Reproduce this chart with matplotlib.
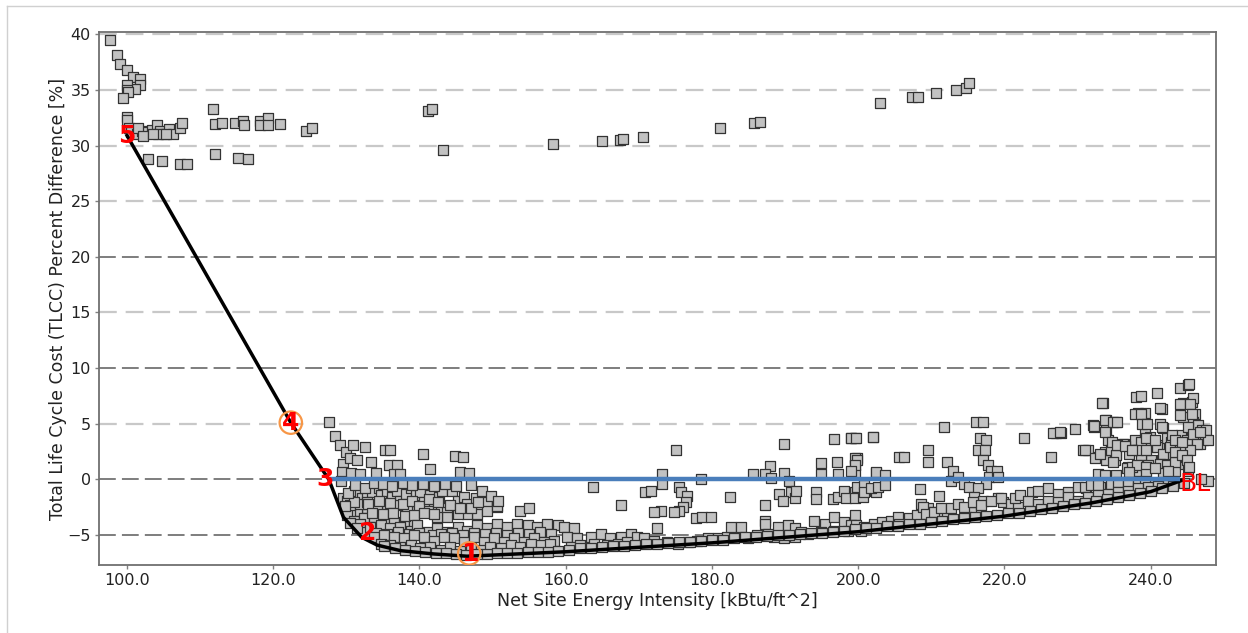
import matplotlib
matplotlib.use("Agg")
import matplotlib.pyplot as plt
from matplotlib.lines import Line2D

# scatter values, (energy intensity, TLCC % difference)
upper_left = [
    (97.7, 39.5), (98.6, 38.1), (99.1, 37.3), (100.0, 36.8), (100.8, 36.2), (101.8, 36.0),
    (101.8, 35.4), (101.1, 35.1), (100.0, 35.4), (100.0, 35.0), (100.1, 34.8), (99.4, 34.3),
    (100.0, 32.6), (100.0, 32.3), (100.3, 31.6), (100.6, 31.2), (101.3, 31.0), (102.0, 31.3),
    (102.7, 31.2), (103.4, 31.4), (104.1, 31.8), (104.5, 31.3), (105.0, 31.0), (105.7, 31.5),
    (106.3, 31.0), (107.2, 31.6), (107.5, 32.0), (101.5, 31.6), (104.3, 31.0), (105.4, 31.0),
    (102.2, 30.9), (103.6, 31.0), (102.9, 28.8), (104.8, 28.6), (107.3, 28.3), (108.2, 28.3),
    (111.7, 33.3), (112.0, 31.9), (113.0, 32.0), (112.0, 29.2), (114.8, 32.0), (115.8, 32.2),
    (116.0, 31.8), (115.2, 28.9), (116.6, 28.8), (118.2, 32.2), (119.3, 32.5), (118.2, 31.8),
    (119.3, 31.8), (120.9, 31.9), (124.5, 31.3), (125.3, 31.6),
]

upper_right = [
    (141.1, 33.1), (141.7, 33.3), (143.2, 29.6), (158.2, 30.1), (165.0, 30.4), (167.4, 30.5),
    (167.8, 30.6), (170.5, 30.8), (181.1, 31.6), (185.8, 32.0), (186.5, 32.1), (203.0, 33.8),
    (207.4, 34.4), (208.2, 34.4), (210.7, 34.7), (213.4, 35.0), (214.8, 35.2), (215.1, 35.6),
]

cloud_near = [
    (127.6, 5.2), (128.4, 3.9), (129.1, 3.1), (129.9, 2.5), (130.9, 3.1), (132.6, 2.9),
    (135.3, 2.6), (136.0, 2.6), (140.5, 2.3), (144.8, 2.1), (146.0, 2.0), (129.6, 1.4),
    (130.5, 1.9), (131.5, 1.7), (133.4, 1.6), (135.8, 1.3), (136.9, 1.3), (141.4, 0.9),
    (145.6, 0.7), (146.8, 0.6), (129.4, 0.7), (130.6, 0.6), (131.8, 0.5), (134.0, 0.6),
    (136.5, 0.5), (137.4, 0.5), (129.2, -0.1), (129.6, -1.7), (130.1, -1.9), (131.0, -1.0),
    (131.9, -1.3), (132.2, -1.7), (132.8, -1.6), (133.5, -1.1), (134.4, -0.8), (134.7, -1.4),
    (135.6, -1.0), (136.3, -1.6), (136.9, -1.0), (137.4, -1.9), (138.1, -1.3), (138.8, -0.8),
    (139.5, -1.4), (140.1, -1.1), (140.6, -2.0), (141.5, -1.4), (142.0, -2.3), (142.7, -1.6),
    (142.9, -2.6), (143.8, -2.9), (143.1, -1.0), (144.5, -1.0), (145.2, -1.9), (146.1, -1.6),
    (146.5, -2.2), (147.7, -1.7), (148.4, -2.5), (149.3, -2.0), (150.6, -2.5), (147.9, -3.1),
    (149.3, -2.8), (146.5, -3.1), (145.2, -3.1), (143.8, -3.4), (142.4, -3.4), (141.1, -2.8),
    (139.7, -2.8), (138.3, -2.5), (136.9, -2.3), (135.6, -2.5), (134.2, -2.5), (132.8, -2.6),
    (131.5, -2.8), (130.5, -3.1), (130.1, -3.2), (131.0, -3.7), (132.4, -3.5), (133.8, -3.4),
    (135.1, -3.7), (136.5, -3.8), (137.9, -4.0), (139.2, -3.8), (130.5, -2.3), (131.9, -2.2),
    (132.8, -2.0), (153.8, -2.8), (155.0, -2.6), (150.6, -2.4), (131.9, -4.0), (132.6, -4.7),
    (130.5, -3.9), (131.5, -4.4), (131.0, -2.0), (129.8, -2.4), (130.2, -1.2), (131.2, -0.5),
    (132.5, -0.8), (133.8, -0.3), (135.0, -0.4), (136.2, -0.6), (137.8, -0.3), (139.0, -0.5),
    (140.5, -0.4), (142.0, -0.6), (143.5, -0.4), (145.0, -0.6), (147.0, -0.5), (148.5, -1.0),
    (149.8, -1.5), (150.8, -1.9), (133.0, -2.2), (134.5, -1.9), (136.0, -2.1), (137.8, -2.2),
    (139.0, -1.9), (140.0, -2.4), (141.3, -1.8), (142.5, -2.0), (144.2, -2.3), (145.5, -2.6),
    (147.0, -2.6), (148.0, -2.0), (133.5, -3.0), (135.0, -3.1), (136.4, -3.0), (138.0, -3.3),
    (139.3, -3.2), (140.6, -3.0), (142.0, -3.1),
    (133.3, -4.3), (134.7, -4.1), (136.0, -4.4), (137.4, -4.3), (138.8, -4.6), (139.7, -4.1),
    (141.1, -4.7), (142.4, -4.4), (143.8, -4.7), (145.2, -4.3), (146.5, -4.6), (147.9, -4.1),
    (149.3, -4.4), (150.6, -4.0), (152.0, -4.3), (153.4, -4.0), (154.8, -4.1), (156.1, -4.3),
    (157.5, -4.0), (158.9, -4.1),
    (134.0, -4.8), (135.5, -4.9), (137.0, -4.7), (138.5, -4.9), (140.0, -4.8), (141.8, -5.0),
    (143.0, -4.9), (144.5, -4.8), (146.0, -5.0), (147.5, -4.8), (149.0, -4.9), (150.5, -4.8),
    (152.0, -5.0), (153.5, -4.8), (155.0, -4.9), (156.5, -4.7), (158.0, -4.9),
    (133.8, -5.2), (135.1, -5.0), (136.5, -5.2), (137.9, -5.3), (139.2, -5.0), (140.6, -5.2),
    (142.0, -5.5), (143.3, -5.2), (144.7, -5.3), (146.1, -5.6), (147.4, -5.2), (148.8, -5.6),
    (150.2, -5.3), (151.6, -5.6), (152.9, -5.3), (154.3, -5.6), (155.7, -5.3), (157.0, -5.6),
    (158.4, -5.5),
    (134.7, -5.8), (136.0, -5.9), (137.4, -6.1), (138.8, -5.9), (140.1, -6.2), (141.5, -6.1),
    (142.9, -6.3), (144.2, -6.1), (145.6, -6.4), (147.0, -6.2), (148.4, -6.3), (149.7, -6.1),
    (151.1, -6.2), (152.5, -5.9), (153.8, -6.1), (155.2, -5.8), (156.6, -5.9), (157.9, -5.8),
    (135.2, -6.0), (136.6, -6.2), (138.0, -6.3), (139.4, -6.4), (140.8, -6.5), (142.2, -6.6),
    (143.6, -6.6), (145.0, -6.7), (146.4, -6.8), (147.8, -6.7), (149.2, -6.7), (150.6, -6.6),
    (152.0, -6.6), (153.4, -6.6), (154.8, -6.5), (156.2, -6.5), (157.6, -6.5), (159.0, -6.4),
]

cloud_mid = [
    (175.1, 2.6), (189.9, 3.2), (196.7, 3.6), (199.0, 3.7), (199.5, 3.7), (202.0, 3.8),
    (188.0, 1.2), (194.9, 1.5), (197.1, 1.6), (199.9, 1.9), (199.6, 1.3), (173.1, 0.5),
    (185.6, 0.5), (187.2, 0.5), (188.1, 0.1), (189.9, 0.6), (190.6, -0.1), (194.9, 0.5),
    (197.2, 0.5), (199.5, 0.5), (202.5, 0.6), (178.5, 0.0), (163.7, -0.7), (170.9, -1.1),
    (171.6, -1.0), (173.2, -0.4), (175.5, -0.7), (175.7, -1.1), (176.6, -1.5), (176.4, -2.0),
    (176.0, -2.5), (175.5, -2.8), (174.8, -2.9), (167.5, -2.3), (173.0, -2.8), (172.1, -2.9),
    (177.8, -3.5), (178.7, -3.4), (179.8, -3.4), (182.4, -1.6), (187.2, -2.3), (187.2, -3.7),
    (187.2, -4.0), (189.2, -1.3), (190.8, -1.1), (191.3, -1.7), (189.7, -1.9), (191.5, -1.0),
    (194.2, -1.1), (194.2, -1.8), (196.5, -1.8), (197.2, -1.6), (198.1, -1.0), (198.3, -1.7),
    (199.5, -1.1), (199.5, -1.7), (200.9, -1.0), (200.6, -1.6), (202.5, -1.1), (172.5, -4.4),
    (199.5, -3.2),
    (159.8, -4.3), (161.1, -4.4), (160.2, -5.2), (161.6, -5.3), (163.4, -5.2), (164.8, -4.9),
    (166.1, -5.3), (167.5, -5.2), (168.9, -4.9), (169.8, -5.2), (163.9, -5.8), (165.7, -5.9),
    (167.1, -5.8), (168.4, -5.6), (170.7, -5.3), (172.1, -5.5), (173.9, -5.6), (175.3, -5.8),
    (176.7, -5.6), (178.0, -5.5), (179.4, -5.3), (180.8, -5.3), (182.1, -5.2), (182.6, -4.3),
    (184.0, -4.3), (184.9, -5.3), (186.2, -5.0), (187.6, -4.9), (189.0, -4.3), (190.4, -4.1),
    (191.3, -4.4), (192.2, -4.7), (194.0, -3.7), (195.4, -4.0), (196.7, -3.4), (198.1, -3.8),
    (199.0, -4.1), (200.4, -4.4), (202.2, -4.3), (188.5, -5.2), (189.9, -5.3), (191.3, -5.2),
    (193.1, -4.9), (194.9, -4.7), (196.7, -4.6), (198.6, -4.6), (200.4, -4.6), (160.7, -6.1),
    (162.0, -5.9),
]

cloud_far = [
    (199.0, 3.7), (199.7, 3.7), (202.0, 3.8), (199.5, 1.9), (199.9, 1.7), (199.5, 1.3),
    (199.0, 0.8), (202.4, 0.7), (203.6, 0.4), (199.9, -0.7), (200.8, -0.5), (200.8, -1.1),
    (201.7, -0.8), (202.7, -0.7), (203.6, -0.5), (205.6, 2.0), (206.3, 2.0), (208.4, -0.9),
    (209.5, 2.6), (209.6, 1.6), (211.7, 4.7), (211.1, -1.5), (208.6, -2.2), (209.5, -2.6),
    (210.2, -2.9), (211.1, -3.2), (212.2, -3.1), (208.8, -3.1), (212.2, 1.6), (212.9, 0.8),
    (212.7, -0.1), (213.6, 0.2), (214.5, -0.4), (215.2, -0.7), (216.1, 5.2), (217.0, 5.2),
    (216.6, 3.7), (217.5, 3.5), (216.4, 2.6), (217.3, 2.6), (217.0, 1.7), (217.7, 1.3),
    (218.2, 0.8), (217.9, 0.2), (217.5, -0.4), (216.4, -0.8), (215.9, -1.6), (217.0, -1.9),
    (216.1, -2.5), (215.4, -2.9), (214.8, -3.4), (219.0, 0.8), (219.1, 0.2), (219.1, -1.7),
    (219.8, -2.0), (222.7, 3.7), (226.4, 2.0), (227.1, 4.2), (227.8, 4.2), (229.7, 4.5),
    (230.7, 2.6), (231.4, 2.6), (232.3, 4.7), (233.5, 6.9), (233.9, 5.3), (235.3, 5.2),
    (233.9, 4.4), (234.2, 3.5), (233.7, 2.5), (232.8, 2.0), (233.9, 1.7), (235.1, 1.7),
    (235.3, 2.3), (232.8, 0.5), (233.7, 0.4), (238.0, 7.4), (238.7, 7.5), (240.8, 7.8),
    (238.3, 6.0), (239.2, 6.0), (241.5, 6.3), (237.8, 3.5), (238.7, 3.4), (239.2, 4.3),
    (239.9, 3.8), (240.1, 2.9), (241.2, 3.1), (241.7, 4.6), (242.2, 3.7), (242.8, 3.4),
    (243.5, 3.2), (244.2, 4.0), (244.0, 2.6), (244.7, 2.0), (242.8, 2.3), (241.5, 1.7),
    (240.1, 1.7), (238.7, 2.2), (237.4, 2.6), (236.4, 3.2), (236.9, 1.1), (238.3, 0.8),
    (239.6, 1.3), (241.9, 1.1), (243.3, 0.8), (244.7, 1.4), (245.1, 0.8), (244.0, 8.2),
    (245.1, 8.5), (245.3, 8.6), (244.4, 6.9), (245.6, 7.0), (245.8, 7.3), (246.0, 5.9),
    (245.3, 5.6), (244.4, 5.6), (245.8, 5.2), (246.5, 4.9), (247.0, 4.4), (247.4, 4.0),
    (247.2, 3.5), (246.7, 3.2), (246.0, 3.5), (245.6, 4.0), (245.1, 4.7), (247.6, 4.4),
    (247.9, 3.5), (247.9, -0.1), (246.9, 0.0), (233.3, 6.9), (244.0, 6.8), (245.4, 6.8),
    (241.3, 6.4), (232.1, 4.9), (233.7, 5.3), (234.9, 5.2), (237.8, 5.9), (238.7, 5.9),
    (241.3, 5.0), (244.0, 5.8), (245.6, 5.9), (233.7, 4.3), (234.6, 2.6), (235.3, 2.2),
    (234.9, 1.6), (231.0, 2.6), (232.4, 1.9), (233.0, 2.3), (236.2, 3.2), (239.4, 3.7),
    (238.3, 2.6), (237.1, 2.3), (239.4, 2.6), (240.8, 2.9), (242.9, 4.0), (241.7, 2.3),
    (243.5, 2.0), (242.6, 2.9), (244.9, 3.5), (245.8, 4.1), (246.7, 4.3), (246.3, 3.2),
    (245.4, 2.6), (244.0, 2.9), (236.7, 1.0), (237.4, 1.1), (238.1, 1.3), (239.4, 1.1),
    (241.3, 1.4), (242.2, 1.3), (243.3, 1.6), (235.3, 0.4), (237.1, 0.7), (239.4, 0.5),
    (241.7, 0.6), (231.2, -0.8), (233.0, -0.7), (235.3, -0.5), (237.6, -0.4), (239.9, -0.4),
    (242.0, -0.2), (226.7, 4.2), (227.6, 4.3), (232.2, 4.8), (235.4, 5.2), (238.8, 5.0),
    (239.5, 5.0), (241.5, 4.7), (234.7, 3.4), (235.4, 3.1), (236.5, 3.0), (237.4, 2.6),
    (240.6, 3.5), (243.3, 3.5), (244.3, 3.4), (243.3, 2.5), (244.3, 2.2), (245.0, 1.7),
    (245.2, 1.1), (240.6, 1.0), (242.4, 0.8),
    (199.7, -4.1), (200.8, -4.3), (202.2, -4.0), (203.3, -3.8), (204.5, -3.7), (205.4, -3.4),
    (205.6, -4.0), (207.0, -3.5), (208.1, -3.2), (208.8, -2.5), (209.3, -3.1), (210.4, -2.9),
    (211.3, -2.6), (212.7, -2.6), (213.6, -2.2), (214.5, -2.5), (215.7, -2.0), (216.8, -2.3),
    (218.2, -1.9), (219.5, -1.7), (220.9, -2.2), (221.8, -2.5), (221.4, -1.7), (222.1, -1.4),
    (223.7, -1.1), (224.6, -1.0), (225.9, -0.8), (227.3, -1.3), (228.7, -1.1), (230.0, -0.7),
    (231.0, -0.7), (231.9, -0.5), (232.8, -0.5), (234.6, -0.4), (235.5, -0.2), (236.9, -0.2),
    (238.3, -0.2), (239.2, -0.1), (223.2, -1.9), (224.6, -2.2), (225.9, -1.9), (227.3, -2.0),
    (228.7, -1.6), (230.0, -1.9), (231.4, -1.6), (232.8, -1.4), (234.2, -1.3), (235.5, -1.1),
    (236.9, -1.0), (238.3, -0.8), (239.6, -0.7), (241.0, -0.6), (242.4, -0.5),
]

front_band = [
    (160.5, -6.3), (162.0, -6.2), (163.5, -6.2), (165.0, -6.1), (166.5, -6.0), (168.0, -6.0),
    (169.5, -5.9), (171.0, -5.8), (172.5, -5.8), (174.0, -5.7), (175.5, -5.6), (177.0, -5.6),
    (178.5, -5.5), (180.0, -5.4), (181.5, -5.4), (183.0, -5.3), (184.5, -5.2), (186.0, -5.2),
    (187.5, -5.1), (189.0, -5.0), (190.5, -5.0), (192.0, -4.9), (193.5, -4.8), (195.0, -4.8),
    (196.5, -4.7), (198.0, -4.6), (199.5, -4.5), (201.0, -4.4), (202.5, -4.4), (204.0, -4.2),
    (205.5, -4.2), (207.0, -4.0), (208.5, -4.0), (210.0, -3.8), (211.5, -3.7), (213.0, -3.6),
    (214.5, -3.5), (216.0, -3.4), (217.5, -3.3), (219.0, -3.2), (220.5, -3.0), (222.0, -3.0),
    (223.5, -2.8), (225.0, -2.7), (226.5, -2.6), (228.0, -2.4), (229.5, -2.2), (231.0, -2.1),
    (232.5, -1.9), (234.0, -1.8), (235.5, -1.6), (237.0, -1.4), (238.5, -1.2), (240.0, -1.0),
    (241.5, -0.8), (243.0, -0.6), (244.5, -0.3),
]

# pareto front (black) and baseline (blue)
front_x = [100.0, 122.4, 127.6, 129.6, 132.1, 134.2, 137.4, 142.0, 146.5, 160.0, 180.0,
           200.0, 210.0, 220.0, 232.0, 240.0, 244.2]
front_y = [30.9, 5.1, 0.0, -3.4, -5.2, -5.9, -6.4, -6.7, -6.9, -6.5, -5.7,
           -4.7, -4.0, -3.3, -2.1, -1.1, -0.1]
baseline_x = [127.8, 244.0]
baseline_y = [0.0, 0.0]

step_names = ["5", "4", "3", "2", "1"]
step_x = [100.0, 122.4, 127.1, 132.9, 146.9]
step_y = [30.9, 5.1, 0.0, -4.8, -6.7]
circled_x = [122.4, 146.8]
circled_y = [5.1, -6.65]
bl_x, bl_y = 244.0, -0.4

x_ticks = [100, 120, 140, 160, 180, 200, 220, 240]
y_ticks = [-5, 0, 5, 10, 15, 20, 25, 30, 35, 40]
dark_grid = [-5, 0, 10, 20]


def main():
    fig = plt.figure(figsize=(12.48, 6.33), dpi=100)
    ax = fig.add_axes([99 / 1248, 1 - 565 / 633, (1216 - 99) / 1248, (565 - 32) / 633])

    for level in y_ticks:
        if level in dark_grid:
            ax.axhline(level, color="#5a5a5a", lw=1.1, dashes=(11, 4), zorder=0)
        else:
            ax.axhline(level, color="#c8c8c8", lw=1.6, dashes=(8, 4), zorder=0)

    pts = upper_left + upper_right + cloud_near + cloud_mid + cloud_far + front_band
    xs = [p[0] for p in pts]
    ys = [p[1] for p in pts]
    ax.scatter(xs, ys, marker="s", s=46, facecolor="#c2c2c2", edgecolor="#333333",
               linewidths=0.9, zorder=2)

    ax.plot(front_x, front_y, color="black", lw=2.5, zorder=3, solid_joinstyle="round")
    ax.plot(baseline_x, baseline_y, color="#4a7ebb", lw=3.2, zorder=3, solid_capstyle="butt")

    ax.scatter(circled_x, circled_y, marker="o", s=260, facecolor="none",
               edgecolor="#f79646", linewidths=1.6, zorder=4)
    for name, x, y in zip(step_names, step_x, step_y):
        ax.text(x, y, name, color="red", fontsize=18, fontweight="bold",
                ha="center", va="center", zorder=5)
    ax.text(bl_x, bl_y, "BL", color="red", fontsize=18, ha="left", va="center", zorder=5)

    ax.set_xlim(96.17, 248.93)
    ax.set_ylim(-7.69, 40.2)
    ax.set_xticks(x_ticks)
    ax.set_xticklabels([f"{v:.1f}" for v in x_ticks])
    ax.set_yticks(y_ticks)
    ax.tick_params(length=3, width=1, color="#808080", labelsize=11.5,
                   labelcolor="#222222", pad=3)
    for side in ax.spines.values():
        side.set_color("#707070")
        side.set_linewidth(1.3)

    ax.set_xlabel("Net Site Energy Intensity [kBtu/ft^2]", fontsize=12.5, color="#222222",
                  labelpad=3)
    ax.set_ylabel("Total Life Cycle Cost (TLCC) Percent Difference [%]", fontsize=12.5,
                  color="#222222", labelpad=0)

    # thin screenshot border on the left and top
    fig.add_artist(Line2D([7 / 1248, 7 / 1248], [0, 1 - 6 / 633], color="#d0d0d0", lw=1))
    fig.add_artist(Line2D([7 / 1248, 1], [1 - 6 / 633, 1 - 6 / 633], color="#d0d0d0", lw=1))

    fig.savefig("out.png", dpi=100)


if __name__ == "__main__":
    main()
